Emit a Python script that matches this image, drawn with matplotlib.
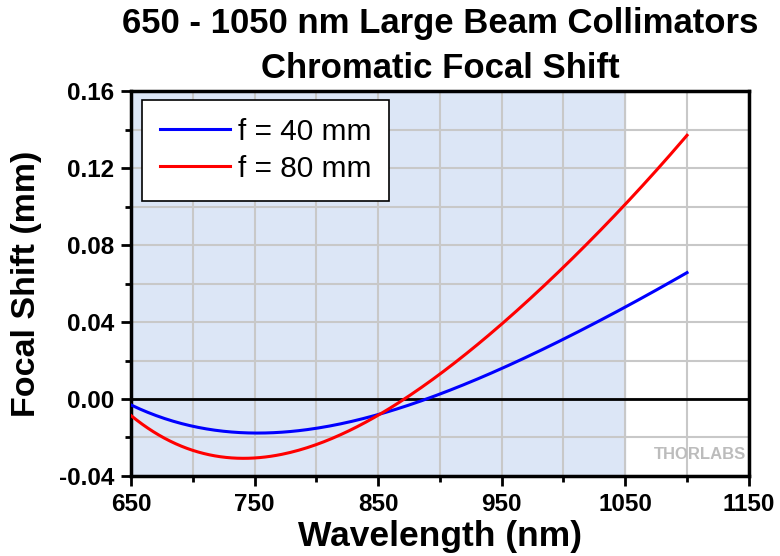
import numpy as np
import matplotlib.pyplot as plt
from matplotlib.ticker import MultipleLocator, FixedLocator

plt.rcParams["font.family"] = ["Liberation Sans", "DejaVu Sans"]

wavelength = [650, 700, 750, 800, 850, 900, 950, 1000, 1050, 1100]
shift_40 = [-0.003, -0.0144, -0.0178, -0.0149, -0.0079, 0.0021, 0.016, 0.031, 0.048, 0.0656]
shift_80 = [-0.0083, -0.0274, -0.0308, -0.023, -0.0079, 0.0125, 0.038, 0.069, 0.1017, 0.1368]
x_ticks = [650, 750, 850, 950, 1050, 1150]

# smooth curve through the read points
def smooth(x, y):
    c = np.polyfit(x, y, 4)
    xs = np.linspace(x[0], x[-1], 200)
    return xs, np.polyval(c, xs)

fig = plt.figure(figsize=(7.8, 5.56), dpi=100)
ax = fig.add_axes([0.168, 0.144, 0.792, 0.692])

ax.axvspan(650, 1050, color="#dce6f6", zorder=0)
ax.grid(True, which="both", color="#c8c8c8", linewidth=1.5, zorder=1)
ax.axhline(0, color="black", linewidth=2, zorder=2)

x40, y40 = smooth(wavelength, shift_40)
x80, y80 = smooth(wavelength, shift_80)
ax.plot(x40, y40, color="#0000ff", linewidth=2.2, label="f = 40 mm", zorder=3)
ax.plot(x80, y80, color="#ff0000", linewidth=2.2, label="f = 80 mm", zorder=3)

ax.set_xlim(650, 1150)
ax.set_ylim(-0.04, 0.16)
ax.xaxis.set_major_locator(FixedLocator(x_ticks))
ax.xaxis.set_minor_locator(MultipleLocator(50))
ax.yaxis.set_major_locator(MultipleLocator(0.04))
ax.yaxis.set_minor_locator(MultipleLocator(0.02))
ax.yaxis.set_major_formatter(plt.FuncFormatter(lambda v, p: f"{v:.2f}"))

ax.tick_params(which="major", direction="out", length=7, width=2, pad=5)
ax.tick_params(which="minor", direction="out", length=4, width=2)
ax.tick_params(axis="x", which="major", labelsize=17.5)
ax.tick_params(axis="y", which="major", labelsize=17.5)
for lbl in ax.get_xticklabels() + ax.get_yticklabels():
    lbl.set_fontweight("bold")
for s in ax.spines.values():
    s.set_linewidth(2.5)

ax.set_xlabel("Wavelength (nm)", fontsize=25.5, fontweight="bold", labelpad=3)
ax.set_ylabel("Focal Shift (mm)", fontsize=24.5, fontweight="bold", labelpad=12)

fig.text(0.564, 1 - 33 / 556, "650 - 1050 nm Large Beam Collimators",
         ha="center", va="baseline", fontsize=25, fontweight="bold")
fig.text(0.564, 1 - 78 / 556, "Chromatic Focal Shift",
         ha="center", va="baseline", fontsize=25, fontweight="bold")

leg = ax.legend(loc="upper left", fontsize=21.5, frameon=True, fancybox=False,
                edgecolor="black", facecolor="white", framealpha=1,
                handlelength=2.34, handletextpad=0.27, borderpad=0.6,
                labelspacing=0.3, borderaxespad=0,
                bbox_to_anchor=(0.018, 0.977))
leg.get_frame().set_linewidth(1.2)

ax.text(0.995, 0.035, "THORLABS", transform=ax.transAxes, ha="right", va="bottom",
        fontsize=12, fontweight="bold", color="#bcbcbc", zorder=4)

fig.savefig("out.png", dpi=100)
